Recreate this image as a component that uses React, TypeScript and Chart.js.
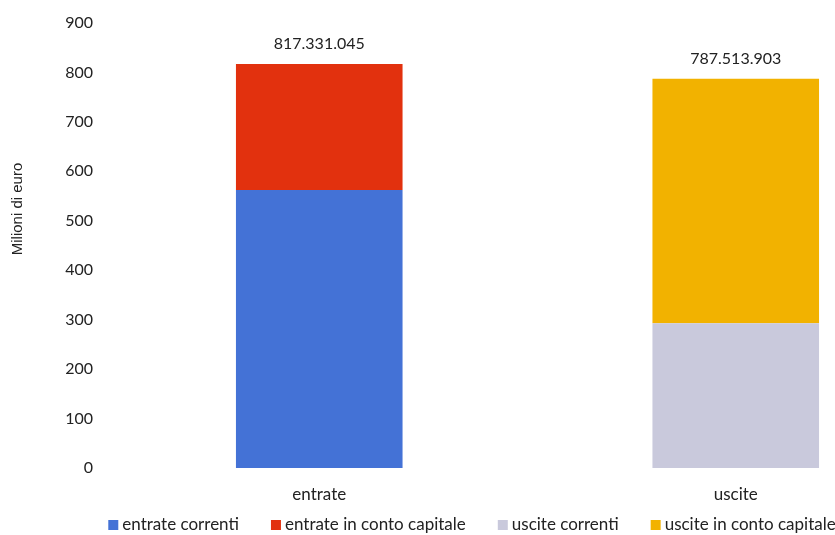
import React, { useEffect, useRef } from 'react';
import { Chart, registerables } from 'chart.js';

Chart.register(...registerables);

const categories = ['entrate', 'uscite'];
const seriesNames = [
  'entrate correnti',
  'entrate in conto capitale',
  'uscite correnti',
  'uscite in conto capitale',
];
const entrateCorrenti = [562, null];
const entrateContoCapitale = [255.3, null];
const usciteCorrenti = [null, 293];
const usciteContoCapitale = [null, 494.5];
const totalLabels = ['817.331.045', '787.513.903'];
const yAxisTitle = 'Milioni di euro';
const seriesColors = ['#4472D6', '#E2310E', '#C9C9DC', '#F2B200'];

const FONT = 'Lato, "Open Sans", sans-serif';
const TEXT = '#222222';

const totalsPlugin = {
  id: 'totals',
  afterDatasetsDraw(chart: any) {
    const ctx = chart.ctx;
    ctx.save();
    ctx.font = `16px ${FONT}`;
    ctx.fillStyle = TEXT;
    ctx.textAlign = 'center';
    ctx.textBaseline = 'middle';
    categories.forEach((_, i) => {
      let top: number | null = null;
      let x = 0;
      chart.data.datasets.forEach((ds: any, di: number) => {
        if (ds.data[i] == null) return;
        const el = chart.getDatasetMeta(di).data[i];
        if (!el) return;
        if (top === null || el.y < top) {
          top = el.y;
          x = el.x;
        }
      });
      if (top !== null) ctx.fillText(totalLabels[i], x, (top as number) - 20);
    });
    ctx.restore();
  },
};

const decorPlugin = {
  id: 'decor',
  afterDraw(chart: any) {
    const ctx = chart.ctx;
    ctx.save();
    // y axis title
    ctx.translate(18, 209);
    ctx.rotate(-Math.PI / 2);
    ctx.font = `15px "Liberation Sans", Arial, sans-serif`;
    ctx.fillStyle = TEXT;
    ctx.textAlign = 'center';
    ctx.textBaseline = 'middle';
    ctx.fillText(yAxisTitle, 0, 0);
    ctx.restore();

    // legend
    ctx.save();
    ctx.font = `17px ${FONT}`;
    const box = 10;
    const gapBox = 4;
    const gapItem = 32;
    const widths = seriesNames.map((n) => box + gapBox + ctx.measureText(n).width);
    const total = widths.reduce((a, b) => a + b, 0) + gapItem * (widths.length - 1);
    let x = chart.width / 2 - total / 2;
    const y = 525;
    ctx.textBaseline = 'middle';
    ctx.textAlign = 'left';
    seriesNames.forEach((n, i) => {
      ctx.fillStyle = seriesColors[i];
      ctx.fillRect(x, y - box / 2, box, box);
      ctx.fillStyle = TEXT;
      ctx.fillText(n, x + box + gapBox, y);
      x += widths[i] + gapItem;
    });
    ctx.restore();
  },
};

export default function App() {
  const ref = useRef<HTMLCanvasElement>(null);
  useEffect(() => {
    if (!ref.current) return;
    const series = [entrateCorrenti, entrateContoCapitale, usciteCorrenti, usciteContoCapitale];
    const chart = new Chart(ref.current, {
      type: 'bar',
      data: {
        labels: categories,
        datasets: series.map((d, i) => ({
          label: seriesNames[i],
          data: d,
          backgroundColor: seriesColors[i],
          borderWidth: 0,
          categoryPercentage: 0.4,
          barPercentage: 1,
          stack: 's',
        })),
      },
      options: {
        animation: false,
        responsive: false,
        layout: { padding: { left: 0, right: 0, top: 23, bottom: 0 } },
        plugins: { legend: { display: false }, tooltip: { enabled: false } },
        scales: {
          x: {
            stacked: true,
            grid: { display: false, drawTicks: false },
            border: { display: false },
            ticks: { font: { family: FONT, size: 17 }, color: TEXT, padding: 16 },
            afterFit(s: any) {
              s.height = 67;
              s.paddingLeft = 0;
              s.paddingRight = 0;
            },
          },
          y: {
            stacked: true,
            min: 0,
            max: 900,
            grid: { display: false, drawTicks: false },
            border: { display: false },
            ticks: { stepSize: 100, font: { family: FONT, size: 16 }, color: TEXT, padding: 18 },
            afterFit(s: any) {
              s.width = 111;
              s.paddingTop = 0;
              s.paddingBottom = 0;
            },
          },
        },
      },
      plugins: [totalsPlugin, decorPlugin],
    });
    return () => chart.destroy();
  }, []);
  return (
    <div
      style={{
        position: 'fixed',
        left: 0,
        top: 0,
        width: 835,
        height: 535,
        overflow: 'hidden',
        background: '#ffffff',
      }}
    >
      <canvas ref={ref} width={944} height={535} style={{ display: 'block', width: 944, height: 535 }} />
    </div>
  );
}
